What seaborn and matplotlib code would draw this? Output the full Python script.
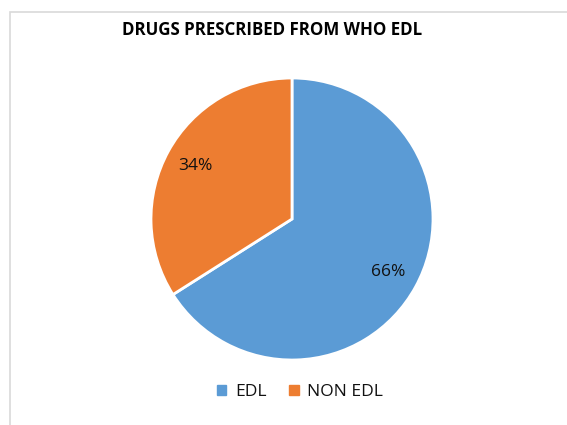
import matplotlib
matplotlib.use("Agg")
import matplotlib.pyplot as plt
import seaborn as sns
from matplotlib.patches import Rectangle, Patch

categories = ["EDL", "NON EDL"]
values = [66, 34]
colors = ["#5B9BD5", "#ED7D31"]
title = "DRUGS PRESCRIBED FROM WHO EDL"

sns.set_theme(style="white")
plt.rcParams['font.family'] = ['Open Sans', 'DejaVu Sans']

W, H = 567, 425
fig = plt.figure(figsize=(W / 100, H / 100), dpi=100)
fig.patch.set_facecolor("white")

# chart border
fig.patches.append(Rectangle((10 / W, -0.01), 1.02, (H - 12) / H + 0.01,
                             transform=fig.transFigure, fill=False,
                             edgecolor="#d9d9d9", linewidth=1.2))

cx, cy, r = 292, 219, 141
ax = fig.add_axes([(cx - r) / W, (H - cy - r) / H, 2 * r / W, 2 * r / H])
wedges, texts, autotexts = ax.pie(values, colors=colors, startangle=90, counterclock=False,
                                  autopct="%1.0f%%", pctdistance=0.78,
                                  wedgeprops=dict(edgecolor="white", linewidth=2),
                                  textprops=dict(fontsize=12.5, color="#111111"))
ax.set_xlim(-1, 1)
ax.set_ylim(-1, 1)
ax.set_aspect("equal")
ax.axis("off")

fig.text(272 / W, 1 - 30 / H, title, ha="center", va="center",
         fontsize=12.2, fontweight="bold", color="#000000")

handles = [Patch(facecolor=c, edgecolor=c) for c in colors]
fig.legend(handles, categories, loc="center", bbox_to_anchor=(300 / W, 1 - 392 / H),
           ncol=2, frameon=False, fontsize=12.5, handlelength=0.55, handleheight=0.55,
           handletextpad=0.5, columnspacing=1.3, labelcolor="#111111")

fig.savefig("out.png", dpi=100)
